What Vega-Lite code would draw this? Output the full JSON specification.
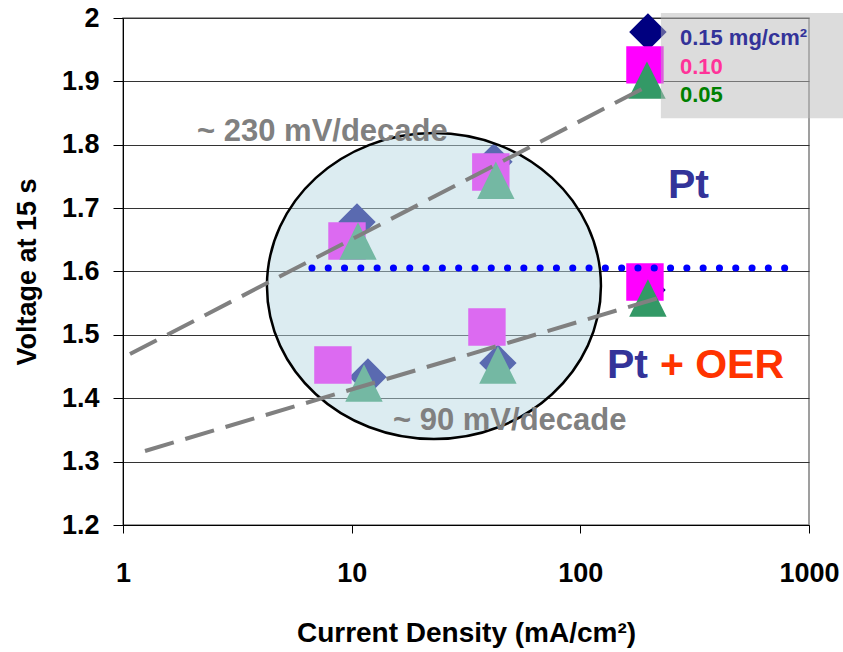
{
  "$schema": "https://vega.github.io/schema/vega-lite/v6.json",
  "width": 686,
  "height": 507,
  "autosize": {"type": "none"},
  "padding": {"left": 123, "top": 18, "right": 34, "bottom": 127},
  "background": "white",
  "config": {
    "font": "Liberation Sans",
    "view": {"stroke": "#808080", "strokeWidth": 1.5}
  },
  "resolve": {"scale": {"color": "independent"}},
  "datasets": {
    "pts": [
      {"loading": "0.15", "j": 10.55, "v": 1.678},
      {"loading": "0.15", "j": 41.9, "v": 1.773},
      {"loading": "0.15", "j": 197.5, "v": 1.978},
      {"loading": "0.15", "j": 11.78, "v": 1.4335},
      {"loading": "0.15", "j": 43.6, "v": 1.4556},
      {"loading": "0.15", "j": 195.6, "v": 1.5708},
      {"loading": "0.10", "j": 9.54, "v": 1.648},
      {"loading": "0.10", "j": 40.6, "v": 1.757},
      {"loading": "0.10", "j": 191.7, "v": 1.926},
      {"loading": "0.10", "j": 8.28, "v": 1.4525},
      {"loading": "0.10", "j": 39.05, "v": 1.5124},
      {"loading": "0.10", "j": 191.7, "v": 1.5834},
      {"loading": "0.05", "j": 10.66, "v": 1.648},
      {"loading": "0.05", "j": 42.7, "v": 1.744},
      {"loading": "0.05", "j": 195.6, "v": 1.902},
      {"loading": "0.05", "j": 11.32, "v": 1.424},
      {"loading": "0.05", "j": 43.6, "v": 1.4525},
      {"loading": "0.05", "j": 197.5, "v": 1.5582}
    ],
    "slopes": [
      {"id": "230", "j": 1.073, "v": 1.4698},
      {"id": "230", "j": 197.5, "v": 1.8927},
      {"id": "90", "j": 1.248, "v": 1.3168},
      {"id": "90", "j": 227.5, "v": 1.5598}
    ],
    "legendtext": [
      {"loading": "0.15", "label": "0.15 mg/cm²", "j": 272.6, "v": 1.957},
      {"loading": "0.10", "label": "0.10", "j": 272.6, "v": 1.912},
      {"loading": "0.05", "label": "0.05", "j": 272.6, "v": 1.867}
    ]
  },
  "layer": [
    {
      "data": {"name": "pts"},
      "mark": {"type": "point", "filled": true, "opacity": 1, "size": 1400, "strokeWidth": 0},
      "encoding": {
        "x": {
          "field": "j", "type": "quantitative",
          "scale": {"type": "log", "domain": [1, 1000]},
          "axis": {
            "title": "Current Density (mA/cm²)",
            "values": [1, 10, 100, 1000],
            "format": "d",
            "grid": false,
            "tickSize": 8, "tickColor": "black", "domainColor": "black",
            "labelFontSize": 27, "labelFontWeight": "bold", "labelColor": "black",
            "labelPadding": 27, "labelFlush": false,
            "titleFontSize": 28, "titleFontWeight": "bold", "titleColor": "black",
            "titlePadding": 33
          }
        },
        "y": {
          "field": "v", "type": "quantitative",
          "scale": {"domain": [1.2, 2]},
          "axis": {
            "title": "Voltage at 15 s",
            "values": [1.2, 1.3, 1.4, 1.5, 1.6, 1.7, 1.8, 1.9, 2.0],
            "labelExpr": "datum.value == 2 ? '2' : format(datum.value, '.1f')",
            "grid": true, "gridColor": "#333333", "gridWidth": 1,
            "tickSize": 10, "tickColor": "black", "domainColor": "black",
            "labelFontSize": 27, "labelFontWeight": "bold", "labelColor": "black",
            "labelPadding": 14, "labelFlush": false,
            "titleFontSize": 27, "titleFontWeight": "bold", "titleColor": "black",
            "titlePadding": 20
          }
        },
        "color": {
          "field": "loading", "type": "nominal",
          "scale": {"domain": ["0.15", "0.10", "0.05"], "range": ["#000080", "#ff00ff", "#339966"]},
          "legend": null
        },
        "shape": {
          "field": "loading", "type": "nominal",
          "scale": {"domain": ["0.15", "0.10", "0.05"], "range": ["diamond", "square", "M0,-1L1,1L-1,1Z"]},
          "legend": null
        }
      }
    },
    {
      "data": {"values": [{"j": 22.9, "v": 1.577}]},
      "mark": {
        "type": "point",
        "shape": "M-1,0A1,0.916,0,1,0,1,0A1,0.916,0,1,0,-1,0Z",
        "size": 111556,
        "filled": true,
        "opacity": 1,
        "fill": "#b8d8e2",
        "fillOpacity": 0.49,
        "stroke": "black",
        "strokeOpacity": 1,
        "strokeWidth": 2.5
      },
      "encoding": {
        "x": {"field": "j", "type": "quantitative"},
        "y": {"field": "v", "type": "quantitative"}
      }
    },
    {
      "data": {"name": "slopes"},
      "mark": {"type": "line", "color": "#808080", "strokeWidth": 4, "strokeDash": [30, 12], "strokeCap": "butt"},
      "encoding": {
        "x": {"field": "j", "type": "quantitative"},
        "y": {"field": "v", "type": "quantitative"},
        "detail": {"field": "id"}
      }
    },
    {
      "data": {"values": [{"j": 6.7, "v": 1.6055}, {"j": 785, "v": 1.6055}]},
      "mark": {"type": "line", "color": "#0000ff", "strokeWidth": 7, "strokeDash": [0.1, 16.2], "strokeCap": "round"},
      "encoding": {
        "x": {"field": "j", "type": "quantitative"},
        "y": {"field": "v", "type": "quantitative"}
      }
    },
    {
      "data": {"values": [{"j1": 225, "j2": 1500, "v1": 2.008, "v2": 1.842}]},
      "mark": {"type": "rect", "fill": "#b9b9b9", "fillOpacity": 0.5},
      "encoding": {
        "x": {"field": "j1", "type": "quantitative"},
        "x2": {"field": "j2"},
        "y": {"field": "v1", "type": "quantitative"},
        "y2": {"field": "v2"}
      }
    },
    {
      "data": {"name": "legendtext"},
      "mark": {"type": "text", "align": "left", "baseline": "alphabetic", "fontSize": 22, "fontWeight": "bold"},
      "encoding": {
        "x": {"field": "j", "type": "quantitative"},
        "y": {"field": "v", "type": "quantitative"},
        "text": {"field": "label"},
        "color": {
          "field": "loading", "type": "nominal",
          "scale": {"domain": ["0.15", "0.10", "0.05"], "range": ["#333399", "#ff3399", "#008000"]},
          "legend": null
        }
      }
    },
    {
      "data": {"values": [
        {"label": "~ 230 mV/decade", "j": 2.107, "v": 1.806},
        {"label": "~ 90 mV/decade", "j": 15.16, "v": 1.35}
      ]},
      "mark": {"type": "text", "align": "left", "baseline": "alphabetic", "fontSize": 31, "fontWeight": "bold", "color": "#808080"},
      "encoding": {
        "x": {"field": "j", "type": "quantitative"},
        "y": {"field": "v", "type": "quantitative"},
        "text": {"field": "label"}
      }
    },
    {
      "data": {"values": [
        {"label": "Pt", "j": 241.6, "v": 1.716},
        {"label": "Pt", "j": 130.7, "v": 1.432}
      ]},
      "mark": {"type": "text", "align": "left", "baseline": "alphabetic", "fontSize": 41, "fontWeight": "bold", "color": "#333399"},
      "encoding": {
        "x": {"field": "j", "type": "quantitative"},
        "y": {"field": "v", "type": "quantitative"},
        "text": {"field": "label"}
      }
    },
    {
      "data": {"values": [{"label": "+ OER", "j": 222.8, "v": 1.432}]},
      "mark": {"type": "text", "align": "left", "baseline": "alphabetic", "fontSize": 41, "fontWeight": "bold", "color": "#ff3300"},
      "encoding": {
        "x": {"field": "j", "type": "quantitative"},
        "y": {"field": "v", "type": "quantitative"},
        "text": {"field": "label"}
      }
    }
  ]
}
